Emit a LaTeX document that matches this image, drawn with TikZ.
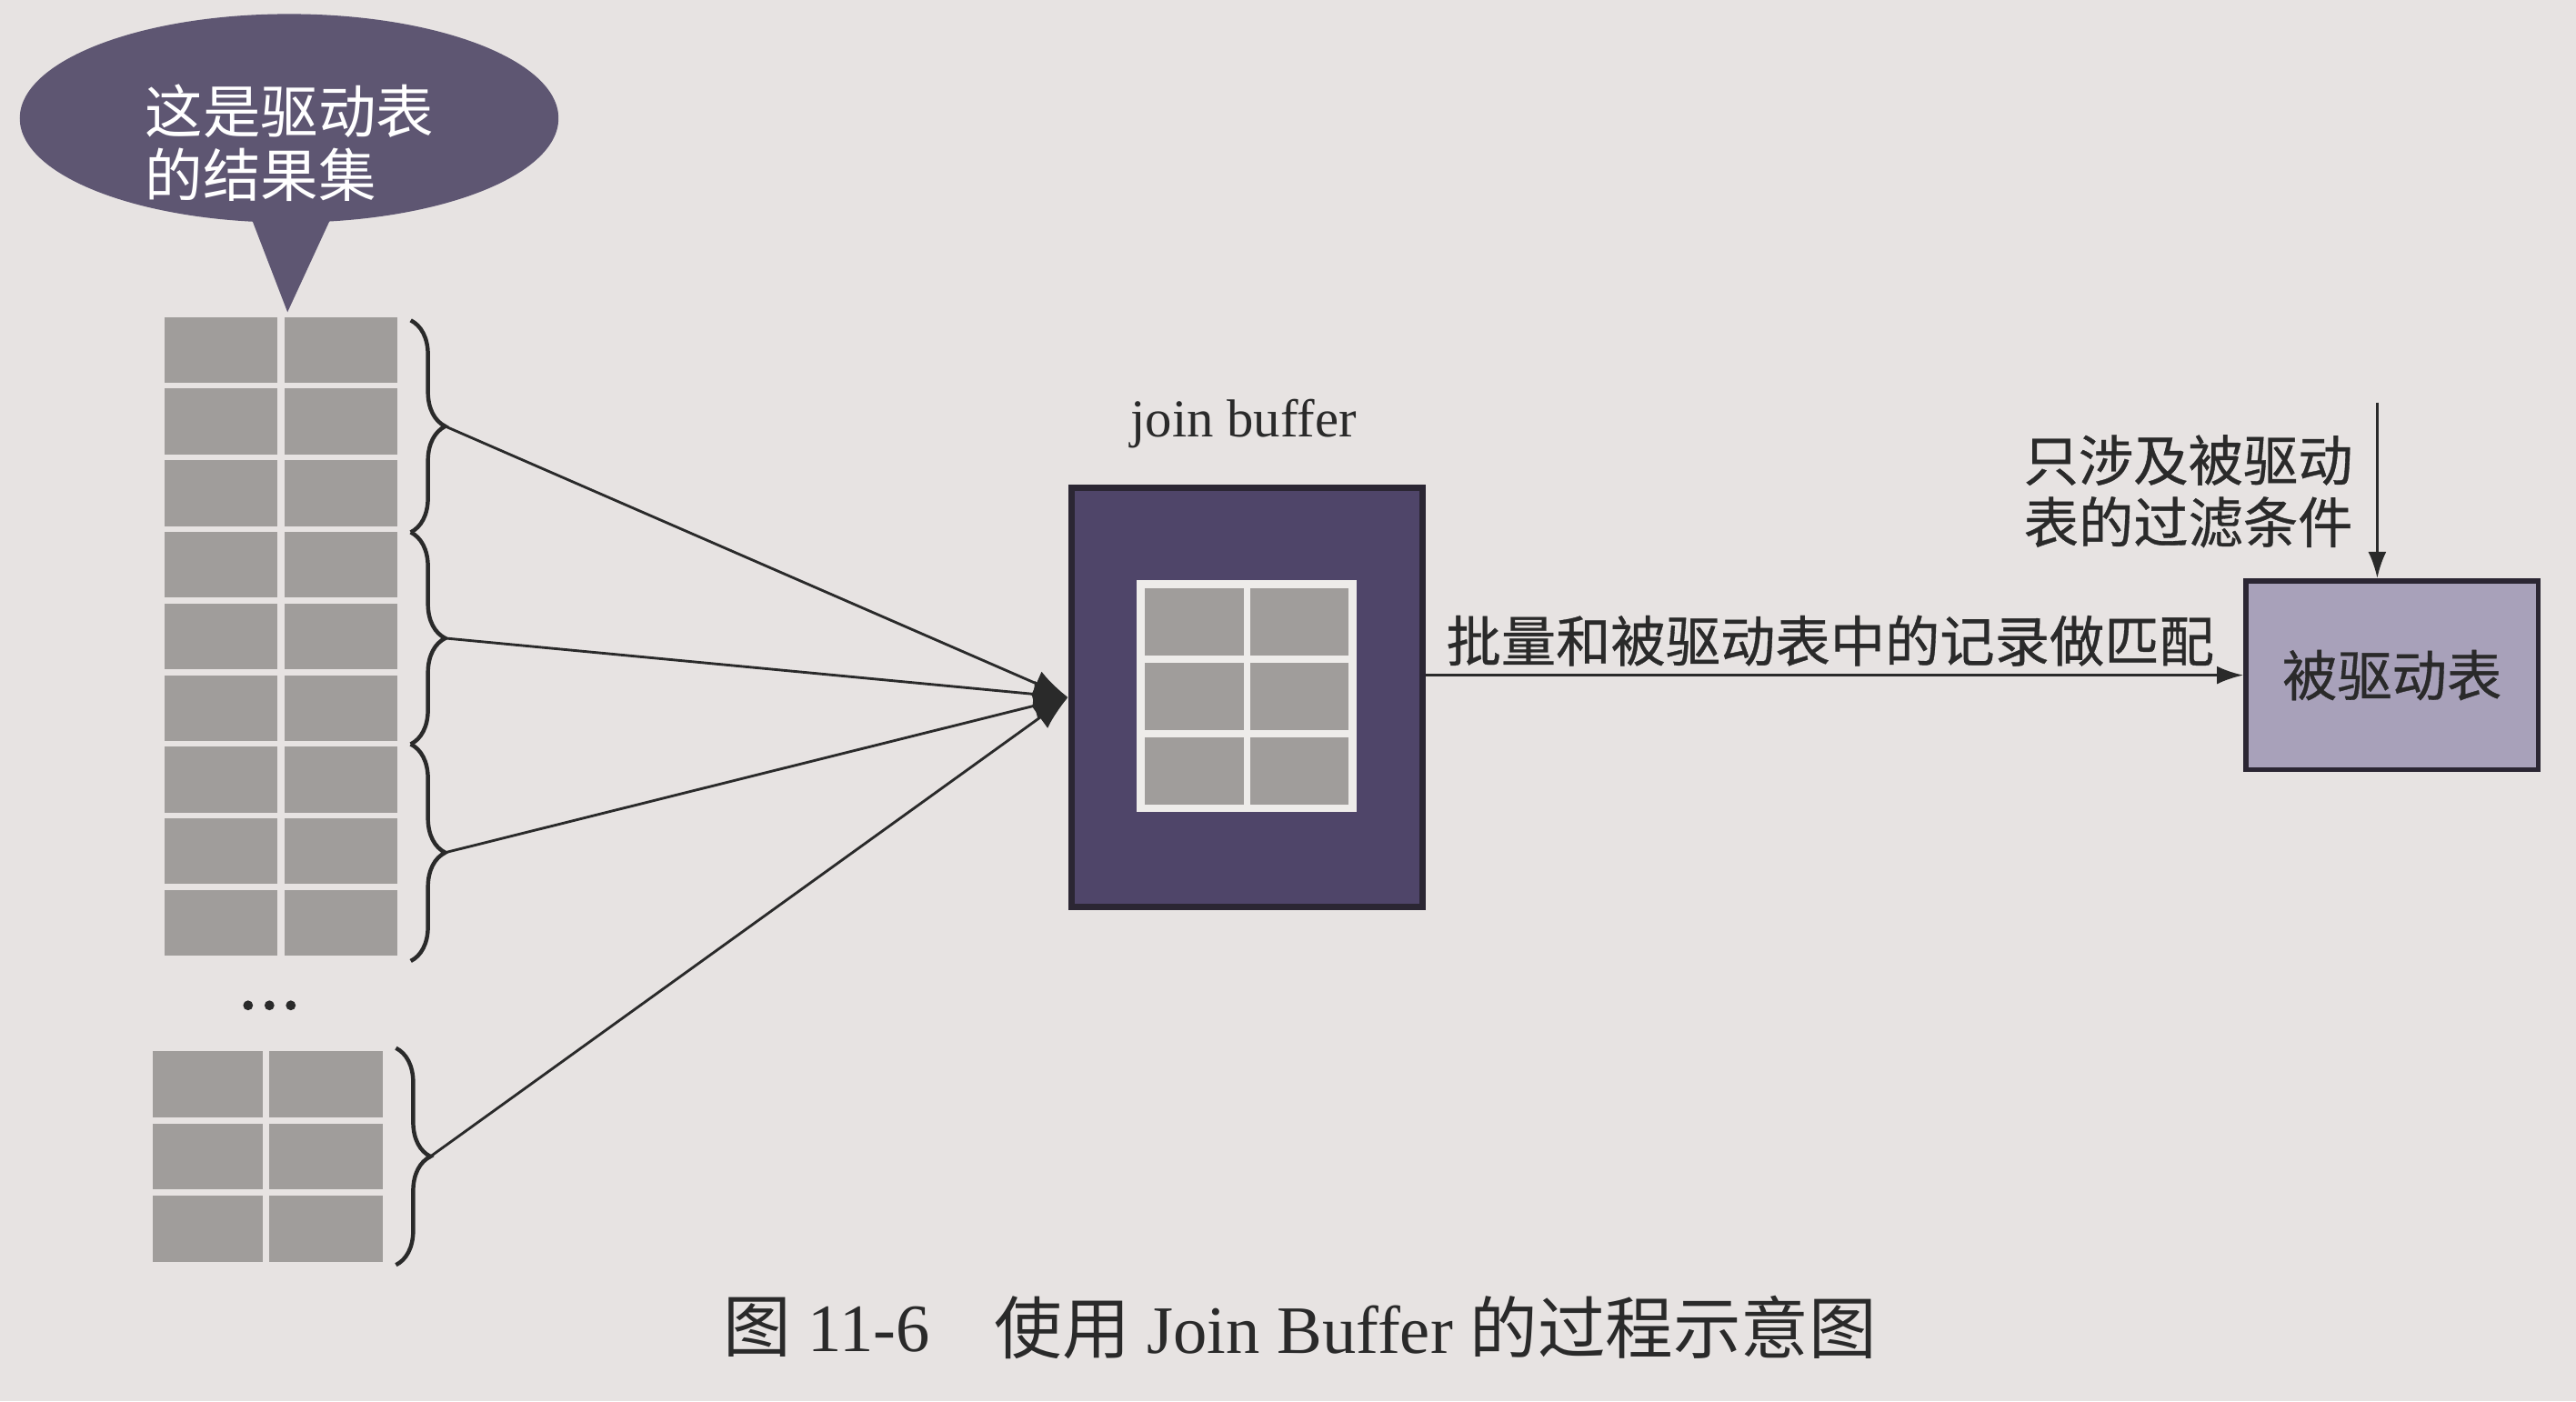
\documentclass[tikz,border=0pt]{standalone}
\usepackage{fontspec}
\setmainfont{Liberation Serif}
\newfontfamily\cjk{Noto Sans CJK SC}
\newfontfamily\cjkb[FakeBold=0.6]{Noto Sans CJK SC}
\usetikzlibrary{arrows.meta,decorations.pathreplacing,shapes.geometric}

\definecolor{bg}{HTML}{E7E3E2}
\definecolor{bubble}{HTML}{5E5672}
\definecolor{cell}{HTML}{A09D9B}
\definecolor{jbfill}{HTML}{4F4569}
\definecolor{jbline}{HTML}{2B2633}
\definecolor{inner}{HTML}{EEECEA}
\definecolor{rbfill}{HTML}{A8A1BA}
\definecolor{ink}{HTML}{2A2A2A}

\begin{document}
\begin{tikzpicture}[x=0.02cm,y=-0.02cm,
  cjklabel/.style={font=\cjkb\fontsize{19pt}{21.5pt}\selectfont, text=ink, inner sep=0pt, align=left},
  gridcell/.style={fill=cell},
  bracestyle/.style={decorate, decoration={brace, amplitude=0.42cm, aspect=0.5}, draw=ink, line width=1.4pt},
  feed/.style={draw=ink, line width=0.9pt, -{Latex[length=0.42cm,width=0.32cm]}},
  thinarrow/.style={draw=ink, line width=0.9pt, -{Latex[length=0.32cm,width=0.22cm]}},
  captionstyle/.style={anchor=west, font=\fontsize{23.5pt}{25pt}\selectfont, text=ink, inner sep=0pt},
]
\fill[bg] (0,0) rectangle (1568,853);
\useasboundingbox (0,0) rectangle (1568,853);

% speech bubble
\fill[bubble] (150,125) -- (175,190) -- (205,125) -- cycle;
\node[ellipse, fill=bubble, minimum width=6.56cm, minimum height=2.54cm, inner sep=0pt] (bubble) at (176,72) {};
\node[font=\cjk\fontsize{20pt}{22pt}\selectfont, text=white, align=left, anchor=west, inner sep=0pt] (bubbletext) at (88,87) {这是驱动表\\的结果集};

% driving table result set
\foreach \i in {0,...,8} {
  \fill[gridcell] (100,{193+\i*43.6}) rectangle (169,{233+\i*43.6});
  \fill[gridcell] (173,{193+\i*43.6}) rectangle (242,{233+\i*43.6});
}
\foreach \i in {0,1,2} {
  \fill[gridcell] (93,{640+\i*44}) rectangle (160,{680+\i*44});
  \fill[gridcell] (164,{640+\i*44}) rectangle (233,{680+\i*44});
}
\fill[ink] (151,612) circle (3) (164,612) circle (3) (177,612) circle (3);

% braces
\draw[bracestyle] (250,195) -- (250,324);
\draw[bracestyle] (250,324) -- (250,453);
\draw[bracestyle] (250,453) -- (250,585);
\draw[bracestyle] (241,638) -- (241,770);
\coordinate (b1) at (271,259.5);
\coordinate (b2) at (271,388.5);
\coordinate (b3) at (271,519);
\coordinate (b4) at (262,704);

% join buffer
\node[font=\fontsize{18.5pt}{20pt}\selectfont, text=ink, inner sep=0pt] (jblabel) at (757,258) {join buffer};
\node[draw=jbline, line width=2.2pt, fill=jbfill, minimum width=4.28cm, minimum height=5.1cm, inner sep=0pt] (jb) at (759,424.5) {};
\node[fill=inner, minimum width=2.68cm, minimum height=2.82cm, inner sep=0pt] (jbinner) at (759,423.5) {};
\foreach \r in {0,1,2} {
  \fill[gridcell] (697,{358+\r*45.5}) rectangle (757,{399+\r*45.5});
  \fill[gridcell] (761,{358+\r*45.5}) rectangle (821,{399+\r*45.5});
}

\draw[feed] (b1) -- (jb.west);
\draw[feed] (b2) -- (jb.west);
\draw[feed] (b3) -- (jb.west);
\draw[feed] (b4) -- (jb.west);

% driven table
\node[draw=jbline, line width=1.8pt, fill=rbfill, minimum width=3.56cm, minimum height=2.3cm, cjklabel] (rb) at (1456,411) {被驱动表};
\draw[thinarrow] (jb.east |- rb.west) -- (rb.west);
\node[cjklabel] (matchlabel) at (1114,390) {批量和被驱动表中的记录做匹配};

\coordinate (vtop) at (1447,245);
\draw[thinarrow] (vtop) -- (vtop |- rb.north);
\node[cjklabel] (filterlabel) at (1332,299) {只涉及被驱动\\表的过滤条件};

% caption
\node[captionstyle] (capnum) at (440,808) {{\cjk 图} 11-6};
\node[captionstyle] (captext) at (605,808) {{\cjk 使用} Join Buffer {\cjk 的过程示意图}};
\end{tikzpicture}
\end{document}
